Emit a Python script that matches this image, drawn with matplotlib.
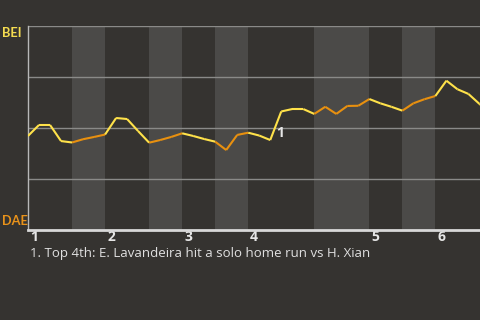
"""
Win probability chart, BEI vs DAE.
"""
import numpy as np
import matplotlib.pyplot as plt
import matplotlib.transforms as mtransforms
from matplotlib.collections import LineCollection

# BEI win probability after each plate appearance
win_prob = [0.461, 0.515, 0.515, 0.436, 0.429, 0.445, 0.456, 0.468, 0.549, 0.544,
            0.485, 0.428, 0.441, 0.456, 0.474, 0.461, 0.446, 0.433, 0.392, 0.466,
            0.477, 0.463, 0.441, 0.581, 0.593, 0.593, 0.569, 0.604, 0.569, 0.608,
            0.609, 0.642, 0.621, 0.604, 0.585, 0.621, 0.641, 0.657, 0.732, 0.690,
            0.667, 0.618, 0.575]
# plate appearance index where each inning / bottom half starts
inning_starts = [0, 7, 14, 20, 31, 37]
inning_labels = ["1", "2", "3", "4", "5", "6"]
bottom_starts = [4, 11, 17, 26, 34]
bottom_ends = [7, 14, 20, 31, 37]
note_idx = 22.55
note_text = "1. Top 4th: E. Lavandeira hit a solo home run vs H. Xian"

bg = "#353330"
band = "#4b4a48"
yellow = "#ffe24a"
orange = "#e8900f"

plt.rcParams['font.family'] = ['Open Sans', 'DejaVu Sans']

fig = plt.figure(figsize=(4.8, 3.2), dpi=100, facecolor=bg)
ax = fig.add_axes([28 / 480, 90 / 320, 1 - 28 / 480, 204 / 320])
ax.set_facecolor(bg)

for s, e in zip(bottom_starts, bottom_ends):
    ax.axvspan(s, e, color=band, lw=0, zorder=0)

for g in [0.25, 0.5, 0.75, 1.0]:
    ax.axhline(g, color="#8a8a88", lw=1, zorder=1)

# colour each segment by which half-inning it falls in
x = np.arange(len(win_prob))
y = np.array(win_prob)
segs = np.stack([np.column_stack([x[:-1], y[:-1]]), np.column_stack([x[1:], y[1:]])], axis=1)
colors = []
for i in range(len(segs)):
    mid = i + 0.5
    in_bottom = any(s <= mid < e for s, e in zip(bottom_starts, bottom_ends))
    colors.append(orange if in_bottom else yellow)
ax.add_collection(LineCollection(segs, colors=colors, linewidths=1.5, zorder=3))

ax.text(note_idx, 0.475, "1", color="#e6e6e6", fontsize=10, fontweight="bold",
        ha="left", va="center", zorder=4)

ax.set_xlim(0, 41.05)
ax.set_ylim(0, 1)
ax.set_yticks([])
ax.set_xticks(inning_starts)
ax.set_xticklabels(inning_labels, color="#e6e6e6", fontsize=10, fontweight="bold")
ax.tick_params(axis="x", length=0, pad=0)
offset = mtransforms.ScaledTranslation(2 / 100, 0, fig.dpi_scale_trans)
for lab in ax.get_xticklabels():
    lab.set_ha("left")
    lab.set_transform(lab.get_transform() + offset)

for side in ["top", "right"]:
    ax.spines[side].set_visible(False)
ax.spines["left"].set_color("#b8b8b8")
ax.spines["left"].set_linewidth(1)
ax.spines["bottom"].set_color("#d8d8d8")
ax.spines["bottom"].set_linewidth(2)

fig.text(2 / 480, 1 - 33 / 320, "BEI", color="#f5dc50", fontsize=9.2, fontweight="bold",
         family=["Lato", "DejaVu Sans"], ha="left", va="center")
fig.text(2 / 480, 1 - 221 / 320, "DAE", color="#e8921a", fontsize=9.2, fontweight="bold",
         family=["Lato", "DejaVu Sans"], ha="left", va="center")
fig.text(30 / 480, 1 - 254 / 320, note_text, color="#e0e0e0", fontsize=9.5,
         ha="left", va="center")

fig.savefig("out.png", dpi=100, facecolor=bg)
